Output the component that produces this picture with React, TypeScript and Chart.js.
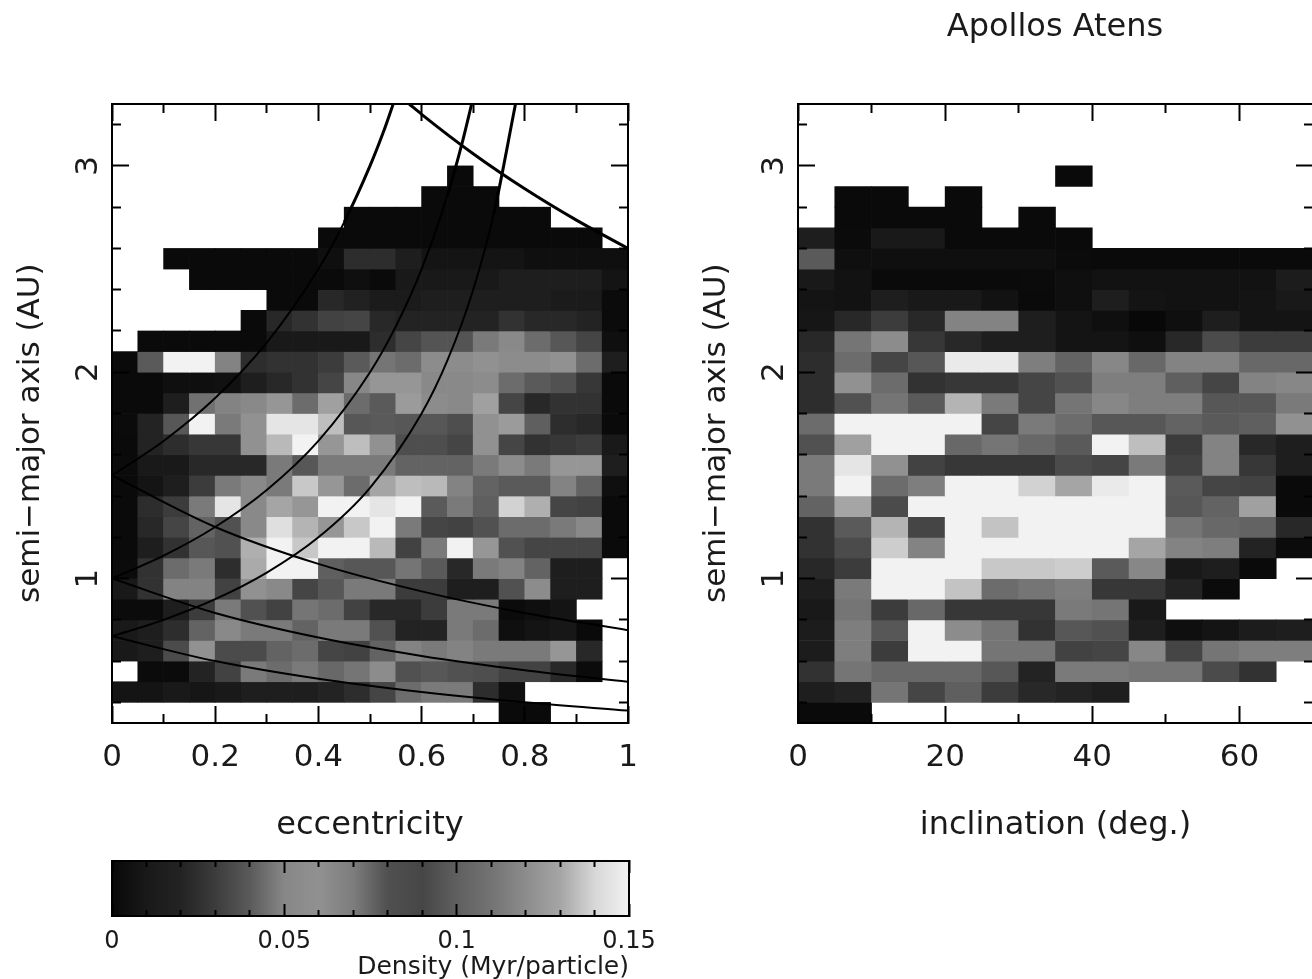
import React, { useEffect, useRef } from "react";
import { Chart, registerables } from "chart.js";

Chart.register(...registerables);

const _ = null;
const FONT = "'DejaVu Sans'";
const INK = "#1a1a1a";

// lower edge of every semi-major axis bin, top row first (AU)
const rowLows = [2.9, 2.8, 2.7, 2.6, 2.5, 2.4, 2.3, 2.2, 2.1, 2.0, 1.9, 1.8, 1.7, 1.6, 1.5, 1.4, 1.3, 1.2, 1.1, 1.0, 0.9, 0.8, 0.7, 0.6, 0.5, 0.4, 0.3];
const eccCenters = [0.025, 0.075, 0.125, 0.175, 0.225, 0.275, 0.325, 0.375, 0.425, 0.475, 0.525, 0.575, 0.625, 0.675, 0.725, 0.775, 0.825, 0.875, 0.925, 0.975];
const incCenters = [2.5, 7.5, 12.5, 17.5, 22.5, 27.5, 32.5, 37.5, 42.5, 47.5, 52.5, 57.5, 62.5, 67.5];

// density in units of 0.001 Myr/particle
const eccDensity = [
  [_, _, _, _, _, _, _, _, _, _, _, _, _, 1, _, _, _, _, _, _],
  [_, _, _, _, _, _, _, _, _, _, _, _, 1, 1, 1, _, _, _, _, _],
  [_, _, _, _, _, _, _, _, _, 1, 1, 1, 1, 1, 1, 1, 1, _, _, _],
  [_, _, _, _, _, _, _, _, 1, 1, 1, 1, 1, 1, 1, 1, 1, 1, 1, _],
  [_, _, 1, 1, 1, 1, 1, 1, 4, 24, 24, 15, 7, 7, 7, 7, 4, 4, 4, 4],
  [_, _, _, 1, 1, 1, 1, 1, 1, 4, 1, 10, 10, 10, 10, 15, 15, 15, 15, 7],
  [_, _, _, _, _, _, 1, 1, 22, 18, 12, 12, 15, 15, 15, 15, 15, 12, 12, 2],
  [_, _, _, _, _, 1, 22, 26, 32, 33, 22, 20, 20, 20, 20, 26, 22, 22, 20, 2],
  [_, 1, 1, 1, 1, 1, 10, 10, 10, 10, 24, 33, 38, 38, 47, 52, 44, 39, 33, 4],
  [1, 40, 150, 150, 49, 24, 26, 26, 30, 40, 46, 44, 55, 55, 60, 55, 55, 60, 44, 15],
  [1, 1, 4, 4, 5, 15, 22, 26, 33, 50, 124, 124, 52, 52, 55, 44, 40, 37, 28, 1],
  [1, 1, 15, 45, 49, 52, 124, 44, 128, 44, 40, 126, 55, 52, 128, 33, 22, 26, 26, 1],
  [2, 20, 39, 150, 47, 60, 145, 145, 135, 39, 40, 39, 39, 36, 60, 126, 41, 24, 22, 1],
  [1, 20, 24, 28, 28, 60, 134, 150, 124, 135, 60, 36, 36, 33, 60, 33, 26, 28, 30, 10],
  [2, 10, 10, 22, 22, 22, 47, 39, 47, 47, 47, 42, 42, 42, 47, 55, 47, 124, 124, 15],
  [1, 7, 15, 30, 47, 52, 47, 137, 124, 44, 130, 135, 134, 49, 42, 40, 40, 49, 42, 4],
  [1, 24, 30, 47, 145, 52, 130, 124, 150, 150, 145, 150, 40, 47, 41, 139, 132, 33, 32, 1],
  [1, 22, 33, 42, 37, 52, 143, 133, 124, 137, 150, 47, 33, 32, 37, 44, 44, 47, 52, 1],
  [1, 15, 26, 39, 37, 132, 150, 137, 150, 150, 134, 32, 47, 150, 124, 37, 33, 33, 33, 1],
  [2, 26, 44, 47, 24, 131, 150, 150, 41, 39, 39, 46, 40, 22, 47, 49, 42, 15, 15, _],
  [10, 26, 49, 49, 32, 60, 52, 33, 39, 47, 47, 30, 30, 15, 15, 37, 55, 15, 15, _],
  [2, 2, 15, 30, 47, 37, 32, 46, 44, 32, 22, 22, 30, 47, 47, 2, 4, 7, _, _],
  [10, 15, 24, 42, 52, 47, 47, 42, 47, 47, 37, 20, 20, 47, 44, 4, 7, 9, 1, _],
  [10, 15, 35, 60, 35, 35, 42, 44, 33, 32, 42, 49, 47, 49, 47, 47, 47, 124, 22, _],
  [_, 2, 2, 20, 32, 47, 44, 47, 43, 46, 55, 37, 39, 37, 36, 32, 32, 22, 2, _],
  [7, 7, 10, 8, 10, 15, 15, 15, 20, 24, 33, 44, 47, 47, 24, 4, _, _, _, _],
  [_, _, _, _, _, _, _, _, _, _, _, _, _, _, _, 1, 1, _, _, _],
];

const incDensity = [
  [_, _, _, _, _, _, _, 1, _, _, _, _, _, _],
  [_, 1, 1, _, 1, _, _, _, _, _, _, _, _, _],
  [_, 1, 1, 1, 1, _, 1, _, _, _, _, _, _, _],
  [15, 2, 10, 10, 1, 1, 1, 1, _, _, _, _, _, _],
  [40, 4, 4, 4, 4, 4, 4, 2, 1, 1, 1, 1, 1, 1],
  [10, 6, 1, 1, 1, 1, 2, 4, 6, 6, 6, 6, 6, 13],
  [7, 6, 15, 10, 10, 6, 1, 4, 15, 7, 6, 6, 7, 10],
  [8, 22, 30, 22, 49, 49, 15, 7, 4, 0, 4, 15, 7, 7],
  [22, 46, 55, 28, 22, 15, 15, 7, 7, 4, 22, 35, 30, 30],
  [24, 44, 33, 39, 147, 147, 48, 42, 50, 43, 49, 49, 43, 43],
  [24, 122, 44, 26, 28, 28, 33, 37, 48, 48, 41, 33, 49, 50],
  [24, 37, 46, 40, 133, 47, 33, 46, 50, 48, 48, 39, 39, 47],
  [44, 150, 150, 150, 150, 33, 47, 44, 39, 39, 42, 40, 41, 60],
  [37, 128, 150, 150, 43, 46, 43, 40, 150, 135, 30, 49, 22, 15],
  [47, 145, 122, 32, 28, 28, 28, 35, 33, 47, 32, 49, 28, 15],
  [47, 150, 44, 48, 150, 150, 139, 130, 147, 150, 40, 33, 32, 1],
  [42, 130, 35, 150, 150, 150, 150, 150, 150, 150, 39, 42, 128, 1],
  [26, 40, 133, 33, 150, 136, 150, 150, 150, 150, 46, 43, 42, 22],
  [26, 35, 138, 49, 150, 150, 150, 150, 150, 130, 49, 48, 20, 2],
  [22, 30, 150, 150, 150, 137, 137, 138, 40, 50, 10, 15, 1, _],
  [15, 47, 150, 150, 136, 44, 46, 48, 28, 28, 20, 2, _, _],
  [10, 46, 30, 43, 28, 28, 28, 47, 46, 10, _, _, _, _],
  [13, 48, 39, 150, 55, 46, 26, 39, 37, 15, 4, 7, 13, 15],
  [13, 48, 30, 150, 150, 46, 46, 32, 33, 50, 33, 46, 48, 48],
  [26, 46, 43, 43, 43, 39, 20, 47, 47, 46, 46, 35, 26, _],
  [15, 20, 46, 33, 41, 30, 22, 20, 15, _, _, _, _, _],
  [1, 1, _, _, _, _, _, _, _, _, _, _, _, _],
];

// grey scale
const barDensity = [0, 10, 20, 30, 40, 50, 60, 70, 80, 90, 100, 110, 120, 130, 140, 150];
const barGray = [8, 25, 35, 60, 90, 135, 145, 125, 80, 70, 95, 115, 140, 165, 215, 242];

// orbit curves in the (e, a) plane
const q150 = { e: [0, 0.1, 0.2, 0.3, 0.4, 0.45, 0.5, 0.525, 0.545], a: [1.5, 1.667, 1.875, 2.143, 2.5, 2.727, 3.0, 3.158, 3.3] };
const q100 = { e: [0, 0.1, 0.2, 0.3, 0.4, 0.5, 0.55, 0.6, 0.65, 0.68, 0.697], a: [1, 1.111, 1.25, 1.429, 1.667, 2, 2.222, 2.5, 2.857, 3.125, 3.3] };
const q072 = { e: [0, 0.1, 0.2, 0.3, 0.4, 0.5, 0.6, 0.65, 0.7, 0.74, 0.782], a: [0.72, 0.8, 0.9, 1.029, 1.2, 1.44, 1.8, 2.057, 2.4, 2.769, 3.3] };
const Q150 = { e: [0, 0.2, 0.4, 0.6, 0.8, 1], a: [1.5, 1.25, 1.071, 0.938, 0.833, 0.75] };
const Q100 = { e: [0, 0.2, 0.4, 0.6, 0.8, 1], a: [1, 0.833, 0.714, 0.625, 0.556, 0.5] };
const Q072 = { e: [0, 0.2, 0.4, 0.6, 0.8, 1], a: [0.72, 0.6, 0.514, 0.45, 0.4, 0.36] };
const Q520 = { e: [0.576, 0.6, 0.7, 0.8, 0.9, 1], a: [3.3, 3.25, 3.059, 2.889, 2.737, 2.6] };
const curves = [q150, q100, q072, Q150, Q100, Q072, Q520];

// ticks
const eccMajor = [0, 0.2, 0.4, 0.6, 0.8, 1];
const eccMinor = [0.1, 0.3, 0.5, 0.7, 0.9];
const incMajor = [0, 20, 40, 60];
const incMinor = [10, 30, 50, 70];
const smaMajor = [1, 2, 3];
const smaMinor = [0.4, 0.6, 0.8, 1.2, 1.4, 1.6, 1.8, 2.2, 2.4, 2.6, 2.8, 3.2];
const barMajor = [0, 0.05, 0.1, 0.15];
const barMinor = [0.01, 0.02, 0.03, 0.04, 0.06, 0.07, 0.08, 0.09, 0.11, 0.12, 0.13, 0.14];

const BIN = 0.1;
const SMA_MIN = 0.3;
const SMA_MAX = 3.3;

function grayFor(v: number) {
  let i = 0;
  while (i < barDensity.length - 2 && v > barDensity[i + 1]) i++;
  const t = (v - barDensity[i]) / (barDensity[i + 1] - barDensity[i]);
  const g = Math.round(barGray[i] + t * (barGray[i + 1] - barGray[i]));
  return `rgb(${g},${g},${g})`;
}

function heatDatasets(matrix: (number | null)[][], centers: number[]) {
  return matrix.map((row, r) => {
    const data: any[] = [];
    const colors: string[] = [];
    row.forEach((v, c) => {
      if (v !== null) {
        data.push({ x: centers[c], y: [rowLows[r], rowLows[r] + BIN] });
        colors.push(grayFor(v));
      }
    });
    return {
      type: "bar",
      data,
      backgroundColor: colors,
      borderWidth: 0,
      barPercentage: 1,
      categoryPercentage: 1,
      grouped: false,
      order: 2,
      xAxisID: "x",
      yAxisID: "y",
    };
  });
}

function fixSize(s: any, size: number) {
  if (s.isHorizontal()) s.height = size;
  else s.width = size;
  s.paddingLeft = 0;
  s.paddingRight = 0;
  s.paddingTop = 0;
  s.paddingBottom = 0;
}

function axis(o: any) {
  const horizontal = o.position === "top" || o.position === "bottom";
  return {
    type: "linear",
    position: o.position,
    min: o.min,
    max: o.max,
    offset: false,
    weight: o.main ? 1 : 0,
    afterBuildTicks: (s: any) => {
      s.ticks = o.values.map((value: number) => ({ value }));
    },
    afterFit: (s: any) => fixSize(s, o.size),
    grid: {
      z: 1,
      offset: false,
      drawOnChartArea: false,
      drawTicks: true,
      tickLength: -o.len,
      tickColor: "#000",
      tickWidth: 2,
    },
    border: { z: 1, display: !!o.main, color: "#000", width: 2 },
    ticks: o.labels
      ? {
          display: true,
          autoSkip: false,
          color: INK,
          padding: o.padding,
          font: { family: FONT, size: o.fontSize },
          callback: (v: number) => String(v),
          ...(horizontal ? { maxRotation: 0, minRotation: 0 } : { maxRotation: 90, minRotation: 90, crossAlign: "center" }),
        }
      : { display: false, autoSkip: false },
    title: o.title
      ? {
          display: true,
          text: o.title,
          color: INK,
          align: o.titleAlign || "center",
          padding: o.titlePadding,
          font: { family: FONT, size: o.titleSize || o.fontSize },
        }
      : { display: false },
  };
}

function plotScales(xMin: number, xMax: number, xMajor: number[], xMinor: number[], xTitle: string, right: number, top: number) {
  const sma = { min: SMA_MIN, max: SMA_MAX };
  const ecc = { min: xMin, max: xMax };
  return {
    x: axis({ ...ecc, position: "bottom", main: true, values: xMajor, len: 17, size: 127, labels: true, padding: 33, fontSize: 31, title: xTitle, titleSize: 32, titlePadding: { top: 0, bottom: 5 } }),
    xMinor: axis({ ...ecc, position: "bottom", values: xMinor, len: 9, size: 0 }),
    xTop: axis({ ...ecc, position: "top", main: true, values: xMajor, len: 17, size: top }),
    xTopMinor: axis({ ...ecc, position: "top", values: xMinor, len: 9, size: 0 }),
    y: axis({ ...sma, position: "left", main: true, values: smaMajor, len: 17, size: 112, labels: true, padding: 30, fontSize: 31, title: "semi\u2212major axis (AU)\u00a0\u00a0\u00a0\u00a0", titlePadding: { top: 12, bottom: 0 } }),
    yMinor: axis({ ...sma, position: "left", values: smaMinor, len: 9, size: 0 }),
    yRight: axis({ ...sma, position: "right", main: true, values: smaMajor, len: 17, size: right }),
    yRightMinor: axis({ ...sma, position: "right", values: smaMinor, len: 9, size: 0 }),
  };
}

const basePlugins = { legend: { display: false }, tooltip: { enabled: false }, title: { display: false } };

export default function App() {
  const leftRef = useRef<HTMLCanvasElement>(null);
  const rightRef = useRef<HTMLCanvasElement>(null);
  const barRef = useRef<HTMLCanvasElement>(null);

  useEffect(() => {
    const curveSets = curves.map((c) => ({
      type: "line",
      data: c.e.map((e, i) => ({ x: e, y: c.a[i] })),
      borderColor: "#000",
      borderWidth: 2,
      pointRadius: 0,
      cubicInterpolationMode: "monotone",
      fill: false,
      order: 1,
      xAxisID: "x",
      yAxisID: "y",
      segment: { borderWidth: (ctx: any) => (ctx.p0.parsed.y > 2.6 ? 3 : 2) },
    }));

    const left = new Chart(leftRef.current!, {
      type: "bar",
      data: { datasets: [...heatDatasets(eccDensity, eccCenters), ...curveSets] as any },
      options: {
        animation: false,
        responsive: false,
        plugins: basePlugins,
        scales: plotScales(0, 1, eccMajor, eccMinor, "eccentricity", 28, 104) as any,
      },
    });

    const right = new Chart(rightRef.current!, {
      type: "bar",
      data: { datasets: heatDatasets(incDensity, incCenters) as any },
      options: {
        animation: false,
        responsive: false,
        plugins: {
          ...basePlugins,
          title: {
            display: true,
            text: "Apollos Atens",
            color: INK,
            padding: { top: 8, bottom: 0 },
            font: { family: FONT, size: 32, weight: "normal" },
          },
        },
        scales: plotScales(0, 70, incMajor, incMinor, "inclination (deg.)", 111, 104 - 46.4) as any,
      },
    });

    const cbar = new Chart(barRef.current!, {
      type: "bar",
      data: {
        labels: ["density"],
        datasets: [
          {
            data: [[barDensity[0] / 1000, barDensity[barDensity.length - 1] / 1000]],
            barPercentage: 1,
            categoryPercentage: 1,
            borderWidth: 0,
            xAxisID: "x",
            yAxisID: "y",
            backgroundColor: (ctx: any) => {
              const area = ctx.chart.chartArea;
              if (!area) return "#888";
              const g = ctx.chart.ctx.createLinearGradient(area.left, 0, area.right, 0);
              barDensity.forEach((d, i) => g.addColorStop(d / 150, `rgb(${barGray[i]},${barGray[i]},${barGray[i]})`));
              return g;
            },
          },
        ] as any,
      },
      options: {
        indexAxis: "y",
        animation: false,
        responsive: false,
        plugins: basePlugins,
        scales: {
          x: axis({ min: 0, max: 0.15, position: "bottom", main: true, values: barMajor, len: 12, size: 74, labels: true, padding: 23, fontSize: 24, title: "Density (Myr/particle)", titleSize: 25, titleAlign: "end", titlePadding: { top: 0, bottom: 8 } }),
          xMinor: axis({ min: 0, max: 0.15, position: "bottom", values: barMinor, len: 6, size: 0 }),
          xTop: axis({ min: 0, max: 0.15, position: "top", main: true, values: barMajor, len: 12, size: 11 }),
          xTopMinor: axis({ min: 0, max: 0.15, position: "top", values: barMinor, len: 6, size: 0 }),
          y: {
            type: "category",
            position: "left",
            afterFit: (s: any) => fixSize(s, 22),
            grid: { drawOnChartArea: false, drawTicks: false },
            ticks: { display: false },
            border: { z: 1, display: true, color: "#000", width: 2 },
          },
          yRight: {
            type: "linear",
            position: "right",
            min: 0,
            max: 1,
            afterFit: (s: any) => fixSize(s, 41),
            grid: { drawOnChartArea: false, drawTicks: false },
            ticks: { display: false },
            border: { z: 1, display: true, color: "#000", width: 2 },
          },
        } as any,
      },
    });

    return () => {
      left.destroy();
      right.destroy();
      cbar.destroy();
    };
  }, []);

  const abs = (l: number, t: number): React.CSSProperties => ({ position: "absolute", left: l, top: t, display: "block" });

  return (
    <div style={{ position: "absolute", left: 0, top: 0, width: 1312, height: 979, overflow: "hidden", background: "#fff" }}>
      <canvas ref={leftRef} width={656} height={850} style={abs(0, 0)} />
      <canvas ref={rightRef} width={738} height={850} style={abs(686, 0)} />
      <canvas ref={barRef} width={580} height={140} style={abs(90, 850)} />
    </div>
  );
}
